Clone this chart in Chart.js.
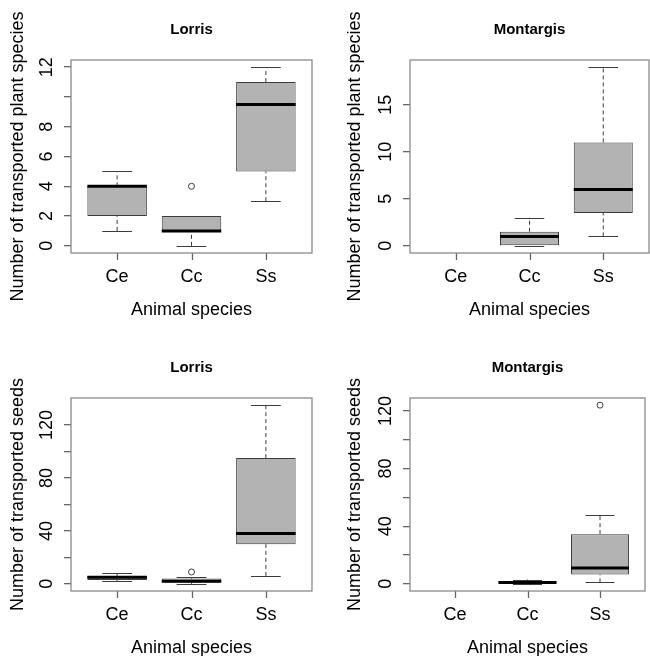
<!DOCTYPE html>
<html>
<head>
<meta charset="utf-8">
<script src="https://cdn.jsdelivr.net/npm/chart.js@4.4.1/dist/chart.umd.min.js"></script>
<style>
  html, body { margin: 0; padding: 0; background: #fff; overflow: hidden; }
  body { width: 650px; height: 656px; position: relative; }
  .cell { position: absolute; width: 325px; height: 328px; }
</style>
</head>
<body>
<div class="cell" style="left:0;top:0"><canvas id="c1"></canvas></div>
<div class="cell" style="left:325px;top:0"><canvas id="c2"></canvas></div>
<div class="cell" style="left:0;top:338px"><canvas id="c3"></canvas></div>
<div class="cell" style="left:325px;top:338px"><canvas id="c4"></canvas></div>
<script>
// Animal species on the x axis
const species = ['Ce', 'Cc', 'Ss'];

// Box stats per species: [min, Q1, median, Q3, max], null = no data
const lorrisPlantStats = [[1, 2, 4, 4, 5], [0, 1, 1, 2, 2], [3, 5, 9.5, 11, 12]];
const lorrisPlantOutliers = [[], [4], []];
const montargisPlantStats = [null, [0, 0, 1, 1.5, 3], [1, 3.5, 6, 11, 19]];
const montargisPlantOutliers = [[], [], []];
const lorrisSeedStats = [[2, 3, 5, 6, 8], [0, 1, 2, 4, 5], [6, 30, 38, 95, 135]];
const lorrisSeedOutliers = [[], [9], []];
const montargisSeedStats = [null, [0, 0, 1, 2, 3], [1, 6.5, 11, 34.5, 48]];
const montargisSeedOutliers = [[], [], [124]];

// Tick values and labels (R drops labels that would collide)
const plantTicksLorris = [0, 2, 4, 6, 8, 10, 12];
const plantLabelsLorris = ['0', '2', '4', '6', '8', '', '12'];
const plantTicksMontargis = [0, 5, 10, 15];
const plantLabelsMontargis = ['0', '5', '10', '15'];
const seedTicks = [0, 20, 40, 60, 80, 100, 120];
const seedLabels = ['0', '', '40', '', '80', '', '120'];

const FONT = "'Liberation Sans', Arial, Helvetica, sans-serif";
const FRAME = '#8a8a8a';
const TICK = '#666666';
const INK = '#3c3c3c';

// draws whiskers, caps, medians, x tick marks and the plot frame, R style
const boxPlugin = {
  id: 'rbox',
  beforeDatasetsDraw(chart) {
    const stats = chart.options.plugins.rbox.stats;
    const x = chart.scales.x, y = chart.scales.y;
    const half = (x.getPixelForValue(1.4) - x.getPixelForValue(1)) / 2; // staple = half box width
    const ctx = chart.ctx;
    ctx.save();
    stats.forEach((s, i) => {
      if (!s) return;
      const cx = x.getPixelForValue(i + 1);
      ctx.strokeStyle = INK;
      ctx.lineWidth = 1;
      ctx.setLineDash([4, 3]);
      ctx.beginPath();
      ctx.moveTo(cx, y.getPixelForValue(s[0]));
      ctx.lineTo(cx, y.getPixelForValue(s[1]));
      ctx.moveTo(cx, y.getPixelForValue(s[3]));
      ctx.lineTo(cx, y.getPixelForValue(s[4]));
      ctx.stroke();
      ctx.setLineDash([]);
      ctx.beginPath();
      [s[0], s[4]].forEach(v => {
        const py = Math.round(y.getPixelForValue(v)) + 0.5;
        ctx.moveTo(cx - half, py);
        ctx.lineTo(cx + half, py);
      });
      ctx.stroke();
    });
    ctx.restore();
  },
  afterDraw(chart) {
    const stats = chart.options.plugins.rbox.stats;
    const x = chart.scales.x, y = chart.scales.y;
    const hw = (x.getPixelForValue(1.4) - x.getPixelForValue(1));
    const ctx = chart.ctx;
    const a = chart.chartArea;
    ctx.save();
    ctx.strokeStyle = '#000';
    ctx.lineWidth = 3;
    stats.forEach((s, i) => {
      if (!s) return;
      const cx = x.getPixelForValue(i + 1);
      const py = y.getPixelForValue(s[2]);
      ctx.beginPath();
      ctx.moveTo(cx - hw, py);
      ctx.lineTo(cx + hw, py);
      ctx.stroke();
    });
    // x tick marks below the frame, one per species
    ctx.strokeStyle = TICK;
    ctx.lineWidth = 1.3;
    ctx.beginPath();
    species.forEach((_, i) => {
      const px = Math.round(x.getPixelForValue(i + 1)) + 0.5;
      ctx.moveTo(px, a.bottom);
      ctx.lineTo(px, a.bottom + 7);
    });
    ctx.stroke();
    ctx.strokeStyle = FRAME;
    ctx.strokeRect(a.left, a.top, a.right - a.left, a.bottom - a.top);
    ctx.restore();
  }
};

function makePanel(id, title, yTitle, stats, outliers, ticks, tickLabels, opts) {
  let lo = Infinity, hi = -Infinity;
  stats.forEach((s, i) => {
    if (s) { lo = Math.min(lo, s[0]); hi = Math.max(hi, s[4]); }
    outliers[i].forEach(v => { lo = Math.min(lo, v); hi = Math.max(hi, v); });
  });
  const pad = (hi - lo) * 0.04;

  const boxes = [];
  stats.forEach((s, i) => { if (s) boxes.push({ x: i + 1, y: [s[1], s[3]] }); });
  const points = [];
  outliers.forEach((list, i) => list.forEach(v => points.push({ x: i + 1, y: v })));

  new Chart(document.getElementById(id), {
    type: 'bar',
    data: {
      datasets: [{
        type: 'bar',
        data: boxes,
        backgroundColor: '#b3b3b3',
        borderColor: INK,
        borderWidth: 1,
        borderSkipped: false,
        categoryPercentage: 1,
        barPercentage: 0.8
      }, {
        type: 'scatter',
        data: points,
        pointStyle: 'circle',
        radius: 3,
        backgroundColor: '#fff',
        borderColor: INK,
        borderWidth: 1
      }]
    },
    options: {
      responsive: false,
      animation: false,
      events: [],
      layout: { padding: { left: 0, right: opts.right, top: 0, bottom: 0 } },
      plugins: {
        legend: { display: false },
        tooltip: { enabled: false },
        title: {
          display: true,
          text: title,
          fullSize: false,
          color: '#000',
          font: { family: FONT, size: 15, weight: 'bold', lineHeight: 1.2 },
          padding: { top: 21, bottom: 21 }
        },
        rbox: { stats: stats }
      },
      scales: {
        x: {
          type: 'linear',
          offset: false,
          min: 0.38,
          max: species.length + 0.62,
          afterBuildTicks: s => { s.ticks = species.map((_, i) => ({ value: i + 1 })); },
          afterFit: s => { s.height = 75; },
          ticks: {
            callback: (v, i) => species[i],
            color: '#000',
            font: { family: FONT, size: 18 },
            padding: 6,
            maxRotation: 0,
            autoSkip: false
          },
          grid: { display: false, tickLength: 7 },
          border: { display: false },
          title: {
            display: true,
            text: 'Animal species',
            color: '#000',
            font: { family: FONT, size: 18, lineHeight: 1.2 },
            padding: { top: 0, bottom: 7 }
          }
        },
        y: {
          min: lo - pad,
          max: hi + pad,
          afterBuildTicks: s => { s.ticks = ticks.map(v => ({ value: v })); },
          afterFit: s => { s.width = opts.left; },
          ticks: {
            callback: (v, i) => tickLabels[i],
            color: '#000',
            font: { family: FONT, size: 18 },
            minRotation: 90,
            maxRotation: 90,
            crossAlign: 'center',
            padding: opts.tickPad,
            autoSkip: false
          },
          grid: { drawOnChartArea: false, color: TICK, tickLength: 7, lineWidth: 1.3 },
          border: { display: false },
          title: {
            display: true,
            text: yTitle,
            color: '#000',
            font: { family: FONT, size: 18, lineHeight: 1.2 },
            padding: { top: opts.titlePad, bottom: 0 }
          }
        }
      }
    },
    plugins: [boxPlugin]
  });
}

function sizeCanvas(id) {
  const c = document.getElementById(id);
  c.width = 325; c.height = 328;
  c.style.width = '325px'; c.style.height = '328px';
}
['c1', 'c2', 'c3', 'c4'].forEach(sizeCanvas);

const leftOpts = { left: 71, right: 13, tickPad: 7, titlePad: 7 };
const rightOpts = { left: 85, right: 1, tickPad: 7, titlePad: 19 };

makePanel('c1', 'Lorris', 'Number of transported plant species',
  lorrisPlantStats, lorrisPlantOutliers, plantTicksLorris, plantLabelsLorris, leftOpts);
makePanel('c2', 'Montargis', 'Number of transported plant species',
  montargisPlantStats, montargisPlantOutliers, plantTicksMontargis, plantLabelsMontargis, rightOpts);
makePanel('c3', 'Lorris', 'Number of transported seeds',
  lorrisSeedStats, lorrisSeedOutliers, seedTicks, seedLabels, Object.assign({}, leftOpts, { tickPad: 2 }));
makePanel('c4', 'Montargis', 'Number of transported seeds',
  montargisSeedStats, montargisSeedOutliers, seedTicks, seedLabels, Object.assign({}, rightOpts, { tickPad: 2 }));
</script>
</body>
</html>
